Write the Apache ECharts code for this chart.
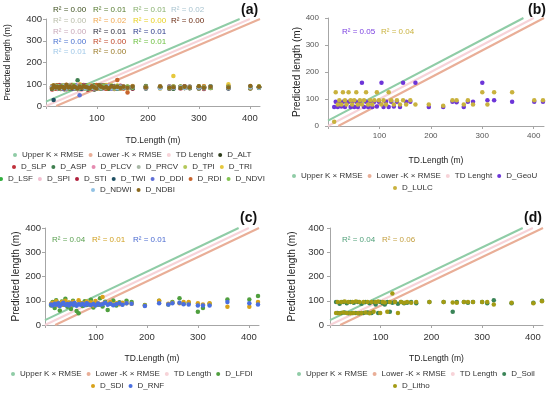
<!DOCTYPE html>
<html><head><meta charset="utf-8">
<script src="https://cdn.jsdelivr.net/npm/echarts@6/dist/echarts.min.js"></script>
<style>html,body{margin:0;padding:0;background:#fff}#c{width:550px;height:394px}</style>
</head><body><div id="c"></div>
<script>
// ---------- data ----------
const tdLength = [12,15,19,22,26,29,33,36,40,44,47,51,55,58,62,66,70,74,78,82,86,90,95,99,104,108,113,118,123,128,134,140,146,152,
  160,170,196,224,242,250,264,272,282,300,310,323,358,401,418];
// reference lines (TD length ± K x RMSE)
const upperLine = [[0,20],[380,400]];
const tdLine = [[0,0],[400,400]];
const lowerLine = [[20,0],[420,400]];
const xTicks = [100,200,300,400];

// panel (a)
const dALT = [84,88,79,92,86,81,90,77,85,93,80,87,83,91,78,86,89,82,94,80,85,88,76,90,84,87,81,92,79,86,83,88,80,85,
  82,88,80,84,86,79,88,83,85,81,87,84,86,80,85];
const dSLP = [76,82,90,85,79,94,88,83,77,91,86,80,95,84,78,89,92,81,87,75,90,83,86,79,93,85,88,80,84,91,78,86,82,89,
  84,79,88,82,90,85,80,87,83,86,78,89,82,88,84];
const dASP = [90,85,80,95,88,78,84,92,86,81,97,83,89,79,118,87,82,91,85,78,88,93,84,80,86,96,81,89,83,87,92,79,85,90,
  88,84,92,86,81,89,85,90,82,87,84,91,86,83,88];
const dPLCV = [80,86,92,78,88,83,95,81,87,90,79,84,93,86,82,89,77,91,85,88,80,94,83,87,79,90,86,82,96,84,81,88,85,79,
  86,90,83,88,81,85,89,84,87,82,90,85,88,83,86];
const dPRCV = [87,81,84,90,79,92,85,88,82,95,86,80,89,83,91,78,94,84,87,81,93,86,79,90,84,88,82,91,85,80,87,83,89,86,
  83,87,85,89,80,86,84,88,82,85,87,83,90,84,86];
const dTPI = [83,95,88,80,91,86,79,93,84,89,82,98,85,90,87,81,96,83,88,92,79,86,94,82,89,85,91,80,87,95,84,90,81,88,
  90,85,82,88,84,91,86,83,89,85,82,88,84,87,83];
const dTRI = [92,78,86,83,97,80,89,85,94,82,88,91,79,87,84,100,83,90,86,81,95,84,88,92,80,87,83,96,85,89,82,94,86,80,
  78,92,86,81,88,138,90,85,87,80,91,84,100,82,90];
const dLSF = [79,90,84,88,82,93,87,80,91,85,78,89,94,83,86,80,92,88,84,90,82,87,95,81,89,84,86,92,80,88,85,83,90,87,
  85,88,83,90,86,82,88,85,84,89,83,87,85,89,86];
const dSPI = [86,83,91,79,88,94,82,86,90,84,93,81,87,85,99,83,88,80,92,86,84,90,81,88,85,93,79,87,90,83,86,92,84,88,
  82,86,84,90,83,88,81,86,89,84,85,82,87,84,88];
const dSTI = [85,92,80,87,95,84,88,81,90,86,83,94,79,88,85,91,82,97,84,87,89,80,92,86,83,88,95,81,87,90,84,86,93,82,
  87,83,90,85,88,84,86,91,83,88,86,84,89,85,87];
const dTWI = [81,28,87,84,79,90,85,88,82,86,91,80,84,89,83,87,79,92,85,81,88,84,90,82,86,80,89,85,83,91,87,82,88,84,
  86,82,88,84,80,87,83,85,88,82,86,84,80,83,85];
const dDDI = [88,84,90,86,82,93,79,87,85,91,84,88,81,95,86,50,90,83,88,84,92,86,81,89,85,87,83,90,86,80,88,85,91,84,
  84,88,82,86,89,83,85,87,84,86,82,88,85,90,87];
const dRDI = [90,86,82,95,88,80,91,85,98,83,87,92,84,89,81,94,86,90,83,88,85,91,82,96,87,84,89,81,92,86,88,120,90,88,
  62,90,84,88,82,89,86,83,88,85,90,84,87,83,89];
const dNDVI = [83,89,86,92,80,88,94,84,87,82,90,85,96,81,88,84,91,86,79,93,87,83,90,85,88,82,94,86,84,89,81,92,87,85,
  88,84,90,86,83,89,85,88,84,90,86,83,88,85,90];
const dNDWI = [87,82,88,85,90,83,86,92,81,89,84,87,83,91,80,88,85,93,82,86,90,84,87,81,89,85,83,88,91,84,86,82,89,87,
  83,87,85,82,88,84,86,83,89,85,84,88,83,86,84];
const dNDBI = [80,94,85,88,83,90,87,82,96,85,89,83,91,86,80,88,84,92,87,85,83,90,86,81,95,88,84,87,82,90,86,89,84,88,
  84,89,86,90,85,86,83,88,86,91,84,89,85,92,88];
const r2A = [["0.00","0.01","0.01","0.02"],["0.00","0.02","0.00","0.00"],["0.00","0.01","0.01"],["0.00","0.00","0.01"],["0.01","0.00"]];

// panel (b)
const dGeoU = [70,90,70,90,72,90,70,88,90,70,92,70,90,70,90,160,70,90,70,92,70,90,72,90,160,70,90,70,90,72,90,70,160,90,
  90,160,70,70,90,88,70,90,90,160,95,95,90,90,90];
const dLULC = [16,125,80,95,80,125,95,80,125,95,80,95,125,80,95,80,95,125,80,95,80,95,125,95,80,95,80,125,95,80,95,80,95,80,
  95,80,80,75,95,95,80,95,80,125,80,125,125,95,95];
const r2B = ["0.05","0.04"];

// panel (c)
const dLFDI = [80,95,70,102,88,60,97,84,108,75,92,66,100,85,58,48,90,78,98,82,87,104,72,93,83,110,76,96,62,89,101,80,94,86,
  100,95,82,100,85,95,110,88,92,55,70,88,105,105,120];
const dSDI = [88,92,85,98,80,90,95,84,100,87,93,82,96,89,85,102,88,91,83,97,86,94,80,99,90,85,115,92,88,95,84,90,86,92,
  90,88,80,100,88,92,90,95,95,90,85,90,75,75,95];
const dRNF = [85,80,88,83,90,78,86,92,82,87,80,89,84,91,79,86,83,88,81,90,85,82,87,80,89,84,86,92,83,88,81,86,90,84,
  90,88,78,90,85,90,92,86,85,80,80,80,95,90,85];
const r2C = ["0.04","0.01","0.01"];

// panel (d)
const dSoil = [95,50,88,50,95,52,90,48,95,50,92,50,95,48,88,50,95,52,90,50,95,85,50,95,90,85,95,55,92,95,88,95,90,92,
  95,90,95,95,55,95,95,92,95,95,90,102,90,92,100];
const dLitho = [50,95,48,95,52,97,50,95,48,95,50,97,48,95,50,95,52,95,48,95,55,95,97,50,95,93,55,95,130,95,50,95,92,95,
  92,95,95,95,93,92,95,95,95,95,95,85,92,90,98];
const r2D = ["0.04","0.06"];

// ---------- styling / build ----------
const FONT = '"Liberation Sans", Arial, sans-serif';
const C_UP = '#8fcca6', C_TD = '#f7d3d8', C_LO = '#e9ae97';
const colorsA = {D_ALT:'#2e3d1c',D_SLP:'#c0303a',D_ASP:'#3f7f4f',D_PLCV:'#e58bb0',D_PRCV:'#a9b8a6',D_TPI:'#b4c85a',
  D_TRI:'#e6c83c',D_LSF:'#2fae3c',D_SPI:'#f2bfd0',D_STI:'#b0203c',D_TWI:'#1f4f63',D_DDI:'#5f6fd6',D_RDI:'#c8642c',
  D_NDVI:'#84c454',D_NDWI:'#92c2e4',D_NDBI:'#8c6a1e'};
const seriesA = [['D_ALT',dALT],['D_SLP',dSLP],['D_ASP',dASP],['D_PLCV',dPLCV],['D_PRCV',dPRCV],['D_TPI',dTPI],['D_TRI',dTRI],
  ['D_LSF',dLSF],['D_SPI',dSPI],['D_STI',dSTI],['D_TWI',dTWI],['D_DDI',dDDI],['D_RDI',dRDI],['D_NDVI',dNDVI],['D_NDWI',dNDWI],['D_NDBI',dNDBI]];
const r2ColorsA = [['#3d4f1e','#557a2e','#88b06e','#a9c4d0'],['#b8bca8','#f0a850','#e8d020','#6a2a10'],['#c8a8b8','#2a2a3a','#2a3a8a'],['#4a72d0','#c0482a','#6cc040'],['#a0c8e8','#9a7a28']];

const grids = [
  {left:46, top:19, width:214, height:87},
  {left:328, top:18, width:216, height:108},
  {left:45, top:228, width:214, height:97},
  {left:330, top:228, width:213, height:97}
];
const axisCfg = [
  {lab:9.5, labColor:'#333', yNameSize:8.5, yNameGap:34, xNameGap:30, yLabMargin:4, xLabMargin:7},
  {lab:8, labColor:'#555', yNameSize:10, yNameGap:25, xNameGap:30, yLabMargin:9, xLabMargin:6},
  {lab:9.5, labColor:'#333', yNameSize:10, yNameGap:24, xNameGap:29, yLabMargin:4, xLabMargin:7},
  {lab:9.5, labColor:'#333', yNameSize:10, yNameGap:33, xNameGap:29, yLabMargin:6, xLabMargin:7}
];
const axLine = {lineStyle:{color:'#a6a6a6', width:1}};
const xAxes = axisCfg.map((a,i)=>({type:'value', gridIndex:i, min:0, max:420, interval:100,
  name:'TD.Length (m)', nameLocation:'middle', nameGap:a.xNameGap,
  nameTextStyle:{fontFamily:FONT, fontSize:8.5, color:'#222'},
  axisLine:axLine, axisTick:{show:true, length:3, lineStyle:{color:'#a6a6a6'}, customValues:[0].concat(xTicks)},
  splitLine:{show:false},
  axisLabel:{fontFamily:FONT, fontSize:a.lab, color:a.labColor, margin:a.xLabMargin, customValues:xTicks}}));
const yAxes = axisCfg.map((a,i)=>({type:'value', gridIndex:i, min:0, max:400, interval:100,
  name:'Predicted length (m)', nameLocation:'middle', nameGap:a.yNameGap,
  nameTextStyle:{fontFamily:FONT, fontSize:a.yNameSize, color:'#222'},
  axisLine:{show:true, lineStyle:{color:'#a6a6a6', width:1}}, axisTick:{show:true, length:3, lineStyle:{color:'#a6a6a6'}},
  splitLine:{show:false},
  axisLabel:{fontFamily:FONT, fontSize:a.lab, color:a.labColor, margin:a.yLabMargin}}));

const series = [];
function refLines(i, tdName){
  series.push({type:'line', name:'Upper K × RMSE', xAxisIndex:i, yAxisIndex:i, data:upperLine, showSymbol:false, symbol:'none',
    color:C_UP, lineStyle:{width:2, color:C_UP}, z:1, silent:true});
  series.push({type:'line', name:'Lower -K × RMSE', xAxisIndex:i, yAxisIndex:i, data:lowerLine, showSymbol:false, symbol:'none',
    color:C_LO, lineStyle:{width:2, color:C_LO}, z:1, silent:true});
  series.push({type:'line', name:tdName, xAxisIndex:i, yAxisIndex:i, data:tdLine, showSymbol:false, symbol:'none',
    color:C_TD, lineStyle:{width:2, color:C_TD}, z:1, silent:true});
}
function scat(i, name, arr, color, size){
  series.push({type:'scatter', name, xAxisIndex:i, yAxisIndex:i, data:tdLength.map((x,k)=>[x, arr[k]]),
    symbolSize:size||4.5, itemStyle:{color, opacity:1}, z:2});
}
refLines(0,'TD Lenght');
seriesA.forEach(([n,a])=>scat(0,n,a,colorsA[n]));
refLines(1,'TD Lenght');
scat(1,'D_GeoU',dGeoU,'#6d35d8'); scat(1,'D_LULC',dLULC,'#c9b23e');
refLines(2,'TD Length');
scat(2,'D_LFDI',dLFDI,'#4f9f3e'); scat(2,'D_SDI',dSDI,'#d8a21a'); scat(2,'D_RNF',dRNF,'#4a6fe0');
refLines(3,'TD Length');
scat(3,'D_Soil',dSoil,'#3a8457'); scat(3,'D_Litho',dLitho,'#a39b14');

// legends: centered rows
const LFS = 8, ICON = 4, GAP = 5;
const mctx = document.createElement('canvas').getContext('2d');
mctx.font = LFS + 'px ' + FONT;
function legendRow(names, cx, cy){
  let w = 0;
  names.forEach((n,k)=>{ w += ICON + 5 + mctx.measureText(n).width + (k ? GAP : 0); });
  return {data:names, left:Math.round(cx - w/2), top:cy - 5, orient:'horizontal', icon:'circle',
    itemWidth:ICON, itemHeight:ICON, itemGap:GAP, padding:0, selectedMode:false,
    textStyle:{fontFamily:FONT, fontSize:LFS, color:'#333'}};
}
const legends = [
  legendRow(['Upper K × RMSE','Lower -K × RMSE','TD Lenght','D_ALT'],132,156),
  legendRow(['D_SLP','D_ASP','D_PLCV','D_PRCV','D_TPI','D_TRI'],132,168),
  legendRow(['D_LSF','D_SPI','D_STI','D_TWI','D_DDI','D_RDI','D_NDVI'],132,180),
  legendRow(['D_NDWI','D_NDBI'],133,191),
  legendRow(['Upper K × RMSE','Lower -K × RMSE','TD Lenght','D_GeoU'],415,177),
  legendRow(['D_LULC'],413,189),
  legendRow(['Upper K × RMSE','Lower -K × RMSE','TD Length','D_LFDI'],132,375),
  legendRow(['D_SDI','D_RNF'],128,387),
  legendRow(['Upper K × RMSE','Lower -K × RMSE','TD Length','D_Soil'],416,375),
  legendRow(['D_Litho'],411,387)
];

// texts
const graphics = [];
function txt(t, x, y, fill, size, bold){
  graphics.push({type:'text', left:x, top:y, z:50, silent:true,
    style:{text:t, fill, fontFamily:FONT, fontSize:size, fontWeight:bold?'bold':'normal'}});
}
const colXA = [53,93,133,171], rowYA = [6,17,28,38,48];
r2A.forEach((row,r)=>row.forEach((v,c)=>txt('R² = '+v, colXA[c], rowYA[r], r2ColorsA[r][c], 8)));
txt('R² = '+r2B[0], 342, 28, '#7a3fe0', 8); txt('R² = '+r2B[1], 381, 28, '#c9b23e', 8);
const r2Ccol = ['#5aa050','#d0a020','#4a6ad0'];
[52,92,133].forEach((x,k)=>txt('R² = '+r2C[k], x, 236, r2Ccol[k], 8));
txt('R² = '+r2D[0], 342, 236, '#4f9f78', 8); txt('R² = '+r2D[1], 382, 236, '#c4a040', 8);
txt('(a)', 241, 3, '#111', 14, true);
txt('(b)', 528, 3, '#111', 14, true);
txt('(c)', 240, 211, '#111', 14, true);
txt('(d)', 524, 211, '#111', 14, true);

const chart = echarts.init(document.getElementById('c'), null, {renderer:'canvas'});
chart.setOption({
  animation:false, backgroundColor:'#fff',
  grid:grids, xAxis:xAxes, yAxis:yAxes, series, legend:legends, graphic:graphics
});
</script></body></html>
